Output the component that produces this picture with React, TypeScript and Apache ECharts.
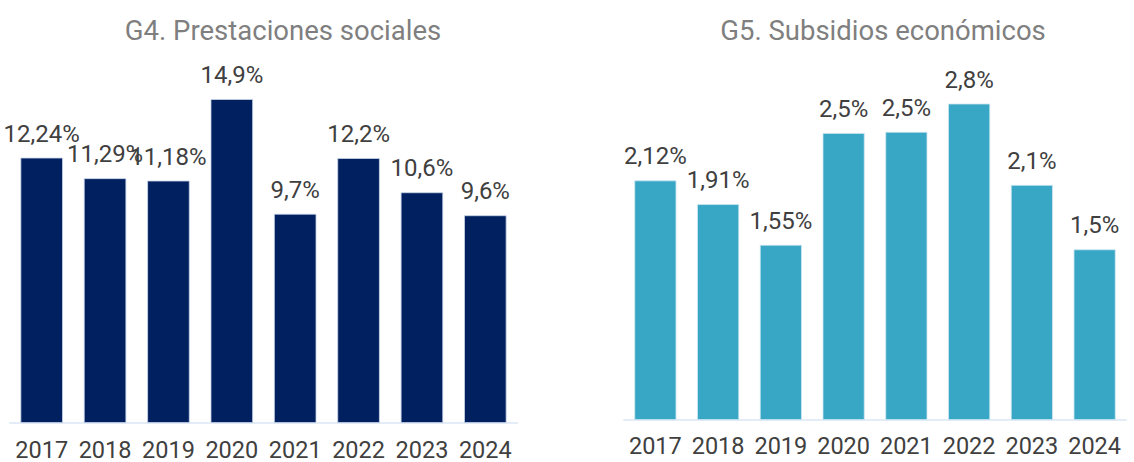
import React, { useEffect, useRef } from "react";
import * as echarts from "echarts";

const years = ["2017", "2018", "2019", "2020", "2021", "2022", "2023", "2024"];
const prestaciones = [12.24, 11.29, 11.18, 14.94, 9.65, 12.22, 10.64, 9.58];
const prestacionesLabels = ["12,24%", "11,29%", "11,18%", "14,9%", "9,7%", "12,2%", "10,6%", "9,6%"];
const subsidios = [2.12, 1.91, 1.55, 2.54, 2.55, 2.8, 2.08, 1.51];
const subsidiosLabels = ["2,12%", "1,91%", "1,55%", "2,5%", "2,5%", "2,8%", "2,1%", "1,5%"];
const titles = ["G4. Prestaciones sociales", "G5. Subsidios económicos"];

const FONT = "Roboto";
const TEXT = "#404040";

export default function App() {
  const ref = useRef<HTMLDivElement>(null);
  useEffect(() => {
    document.body.style.margin = "0";
    const chart = echarts.init(ref.current!, null, { renderer: "svg" });
    const xAxisBase = (gridIndex: number, margin: number) => ({
      type: "category" as const,
      gridIndex,
      data: years,
      axisLine: { lineStyle: { color: "#E3ECF7", width: 2 } },
      axisTick: { show: false },
      axisLabel: { color: TEXT, fontSize: 23.5, fontFamily: FONT, margin, interval: 0 },
    });
    const yAxisBase = (gridIndex: number, max: number) => ({
      type: "value" as const,
      gridIndex,
      min: 0,
      max,
      show: false,
      splitLine: { show: false },
    });
    const titleStyle = { color: "#7F7F7F", fontSize: 27.5, fontWeight: "normal" as const, fontFamily: FONT };
    chart.setOption({
      animation: false,
      title: [
        { text: titles[0], left: 278, top: 11, textAlign: "center", textStyle: titleStyle },
        { text: titles[1], left: 878, top: 11, textAlign: "center", textStyle: titleStyle },
      ],
      grid: [
        { left: 10, width: 507, top: 97.8, height: 325.5 },
        { left: 624, width: 502, top: 81, height: 339 },
      ],
      xAxis: [xAxisBase(0, 15), xAxisBase(1, 14)],
      yAxis: [yAxisBase(0, 15), yAxisBase(1, 3)],
      series: [
        {
          type: "bar",
          xAxisIndex: 0,
          yAxisIndex: 0,
          data: prestaciones,
          barCategoryGap: "33%",
          itemStyle: { color: "#002060", borderColor: "#C9D6EA", borderWidth: 0.8 },
          label: {
            show: true,
            position: "top",
            distance: 12,
            color: TEXT,
            fontSize: 24,
            fontFamily: FONT,
            formatter: (p: any) => prestacionesLabels[p.dataIndex],
          },
        },
        {
          type: "bar",
          xAxisIndex: 1,
          yAxisIndex: 1,
          data: subsidios,
          barCategoryGap: "33%",
          itemStyle: { color: "#38A7C6", borderColor: "#CDE6F0", borderWidth: 0.8 },
          label: {
            show: true,
            position: "top",
            distance: 12,
            color: TEXT,
            fontSize: 24,
            fontFamily: FONT,
            formatter: (p: any) => subsidiosLabels[p.dataIndex],
          },
        },
      ],
    });
    return () => chart.dispose();
  }, []);
  return (
    <div
      ref={ref}
      style={{ position: "absolute", left: 0, top: 0, width: 1134, height: 462, background: "#fff" }}
    />
  );
}
